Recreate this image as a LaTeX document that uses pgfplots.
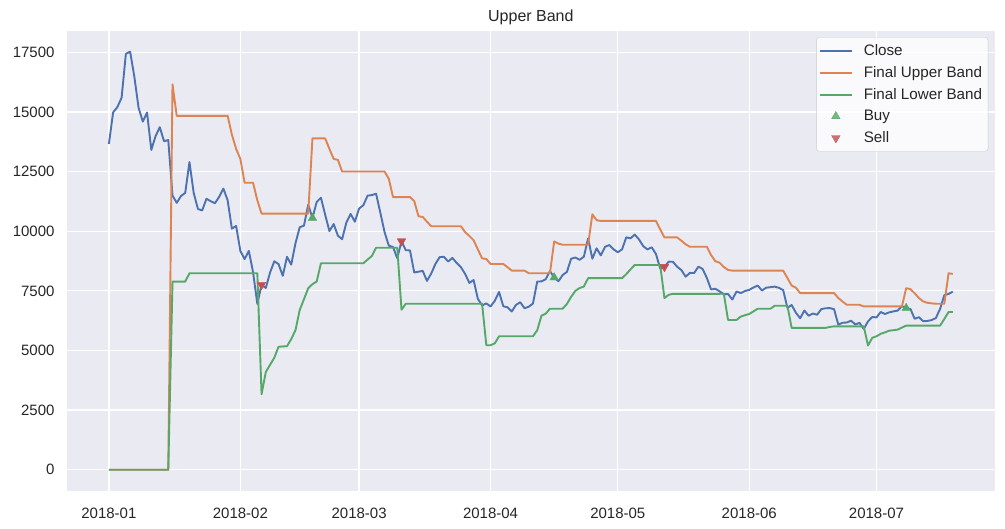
\documentclass[border=0pt]{standalone}
\usepackage{pgfplots}
\pgfplotsset{compat=1.18}
\usepackage{pgfplotstable}
\usepackage{fontspec}
\setmainfont{Liberation Sans}
\definecolor{sbbg}{HTML}{EAEAF2}
\definecolor{sbblue}{HTML}{4C72B0}
\definecolor{sborange}{HTML}{DD8452}
\definecolor{sbgreen}{HTML}{55A868}
\definecolor{sbred}{HTML}{C44E52}
\definecolor{sbtext}{HTML}{262626}

\pgfplotsset{
  lineleg/.style={legend image code/.code={\draw[##1] (0bp,0bp) -- (32bp,0bp);}},
  markleg/.style={legend image code/.code={\draw[##1] plot coordinates {(16bp,0bp)};}},
}

\pgfplotstableread{
day close upper lower
0 13657 0 0
1 14982 0 0
2 15201 0 0
3 15599 0 0
4 17430 0 0
5 17527 0 0
6 16478 0 0
7 15170 0 0
8 14595 0 0
9 14973 0 0
10 13406 0 0
11 13981 0 0
12 14360 0 0
13 13772 0 0
14 13820 0 0
15 11491 16155 7888
16 11189 14835 7888
17 11475 14835 7888
18 11607 14835 7888
19 12899 14835 8238
20 11600 14835 8238
21 10931 14835 8238
22 10868 14835 8238
23 11359 14835 8238
24 11259 14835 8238
25 11171 14835 8238
26 11441 14835 8238
27 11786 14835 8238
28 11296 14835 8238
29 10106 14050 8238
30 10221 13450 8238
31 9171 13030 8238
32 8831 12030 8238
33 9175 12030 8238
34 8277 12030 8238
35 6955 11293 8238
36 7754 10738 3167
37 7621 10738 4096
38 8266 10738 4400
39 8737 10738 4696
40 8622 10738 5155
41 8130 10738 5170
42 8927 10738 5180
43 8598 10738 5480
44 9495 10738 5850
45 10166 10738 6700
46 10234 10738 7150
47 11113 10738 7610
48 10552 13889 7780
49 11225 13889 7890
50 11404 13889 8655
51 10690 13889 8655
52 10005 13450 8655
53 10301 13030 8655
54 9813 12990 8655
55 9665 12500 8655
56 10367 12500 8655
57 10726 12500 8655
58 10398 12500 8655
59 10951 12500 8655
60 11086 12500 8655
61 11490 12500 8810
62 11513 12500 8960
63 11573 12500 9305
64 10780 12500 9305
65 9966 12500 9305
66 9395 12200 9305
67 9338 11430 9305
68 8866 11430 9305
69 9579 11430 6709
70 9205 11430 6959
71 9195 11430 6959
72 8270 11263 6959
73 8301 10626 6959
74 8338 10597 6959
75 7917 10400 6959
76 8224 10209 6959
77 8631 10209 6959
78 8913 10209 6959
79 8929 10209 6959
80 8728 10209 6959
81 8880 10209 6959
82 8668 10209 6959
83 8496 10209 6959
84 8209 9960 6959
85 7833 9800 6959
86 7954 9620 6959
87 7166 9238 6959
88 6891 8863 6959
89 6974 8834 5221
90 6844 8626 5221
91 7084 8626 5300
92 7456 8626 5596
93 6854 8626 5596
94 6811 8490 5596
95 6636 8347 5596
96 6911 8347 5596
97 7024 8347 5596
98 6771 8347 5596
99 6835 8238 5596
100 6968 8238 5596
101 7889 8238 5846
102 7896 8238 6459
103 7986 8238 6542
104 8329 8238 6751
105 8059 9572 6751
106 7902 9480 6751
107 8163 9430 6751
108 8294 9430 6950
109 8846 9430 7250
110 8896 9430 7500
111 8802 9430 7620
112 8931 9430 7680
113 9698 9430 8030
114 8846 10709 8030
115 9282 10460 8030
116 8987 10430 8030
117 9348 10430 8030
118 9419 10430 8030
119 9241 10430 8030
120 9119 10430 8030
121 9236 10430 8030
122 9744 10430 8200
123 9701 10430 8400
124 9858 10430 8584
125 9655 10430 8584
126 9373 10430 8584
127 9235 10430 8584
128 9325 10430 8584
129 9044 10430 8584
130 8441 10080 8584
131 8505 9738 7196
132 8724 9738 7334
133 8717 9738 7376
134 8510 9738 7376
135 8369 9600 7376
136 8094 9450 7376
137 8251 9347 7376
138 8247 9347 7376
139 8513 9347 7376
140 8419 9347 7376
141 8042 9347 7376
142 7558 9000 7376
143 7587 8740 7376
144 7480 8680 7376
145 7356 8500 7380
146 7368 8376 6280
147 7136 8347 6280
148 7473 8347 6280
149 7407 8347 6420
150 7494 8347 6480
151 7541 8347 6530
152 7643 8347 6640
153 7720 8347 6751
154 7514 8347 6751
155 7634 8347 6751
156 7654 8347 6751
157 7678 8347 6876
158 7625 8347 6876
159 7532 8347 6876
160 6786 8035 6876
161 6907 7722 5946
162 6582 7630 5946
163 6350 7405 5946
164 6675 7405 5946
165 6457 7405 5946
166 6550 7405 5946
167 6499 7405 5946
168 6735 7405 5946
169 6770 7405 5946
170 6777 7405 5988
171 6730 7405 6013
172 6084 7200 6013
173 6162 7050 6013
174 6173 6917 6013
175 6249 6917 6013
176 6094 6917 6013
177 6157 6917 6013
178 5903 6846 6013
179 6218 6846 5209
180 6404 6846 5530
181 6386 6846 5596
182 6614 6846 5700
183 6530 6846 5760
184 6598 6846 5830
185 6639 6846 5850
186 6674 6846 5875
187 6857 6846 5960
188 6774 7613 6042
189 6742 7572 6042
190 6330 7400 6042
191 6395 7200 6042
192 6229 7055 6042
193 6238 7000 6042
194 6276 6975 6042
195 6360 6960 6042
196 6742 6960 6042
197 7321 6960 6321
198 7371 8238 6613
199 7467 8209 6613
}\datatable

\pgfplotstableread{
day value
48 10552
105 8059
188 6774
}\buytable

\pgfplotstableread{
day value
36 7754
69 9579
131 8505
}\selltable

\begin{document}
\begin{tikzpicture}
\useasboundingbox (-66.7bp,-38.3bp) rectangle (938.3bp,490.7bp);
\begin{axis}[
  at={(0,0)}, anchor=south west,
  scale only axis, width=928.3bp, height=460bp,
  xmin=-9.95, xmax=208.95, ymin=-876.35, ymax=18403.35,
  xtick={0,31,59,90,120,151,181},
  xticklabels={2018-01,2018-02,2018-03,2018-04,2018-05,2018-06,2018-07},
  ytick={0,2500,5000,7500,10000,12500,15000,17500},
  yticklabels={0,2500,5000,7500,10000,12500,15000,17500},
  scaled ticks=false,
  ticklabel style={font=\fontsize{15bp}{18bp}\selectfont, text=sbtext},
  xticklabel style={anchor=north, inner sep=0pt, yshift=-17bp},
  yticklabel style={anchor=east, inner sep=0pt, xshift=-12bp},
  major tick length=0pt,
  axis line style={draw=none},
  grid=major, major grid style={white, line width=1.3bp},
  axis background/.style={fill=sbbg},
  title={Upper Band},
  title style={font=\fontsize{16bp}{19bp}\selectfont, text=sbtext, at={(0.5,1)}, anchor=base, yshift=3.3bp, inner sep=0pt},
  legend cell align=left,
  legend style={at={(1,1)}, anchor=north east, xshift=-6.7bp, yshift=-6.6bp,
    fill=white, fill opacity=0.8, draw opacity=1, text opacity=1,
    draw=black!20, rounded corners=3bp,
    font=\fontsize{15.2bp}{18bp}\selectfont, text=sbtext,
    inner xsep=2.5bp, inner ysep=3.2bp, column sep=7.5bp, row sep=1.85bp,
    nodes={inner xsep=3.5bp, inner ysep=3.8bp}},
  every axis plot/.append style={line width=1.9bp, line join=round},
]
\addplot[color=sbblue, lineleg] table[x=day, y=close] {\datatable};
\addlegendentry{Close}
\addplot[color=sborange, lineleg] table[x=day, y=upper] {\datatable};
\addlegendentry{Final Upper Band}
\addplot[color=sbgreen, lineleg] table[x=day, y=lower] {\datatable};
\addlegendentry{Final Lower Band}
\addplot[only marks, mark=triangle*, mark size=5bp, color=sbgreen, mark options={fill=sbgreen, draw=sbgreen, line width=0.3bp}, markleg] table[x=day, y=value] {\buytable};
\addlegendentry{Buy}
\addplot[only marks, mark=triangle*, mark size=5bp, color=sbred, mark options={fill=sbred, draw=sbred, line width=0.3bp, rotate=180}, markleg] table[x=day, y=value] {\selltable};
\addlegendentry{Sell}
\end{axis}
\end{tikzpicture}
\end{document}
